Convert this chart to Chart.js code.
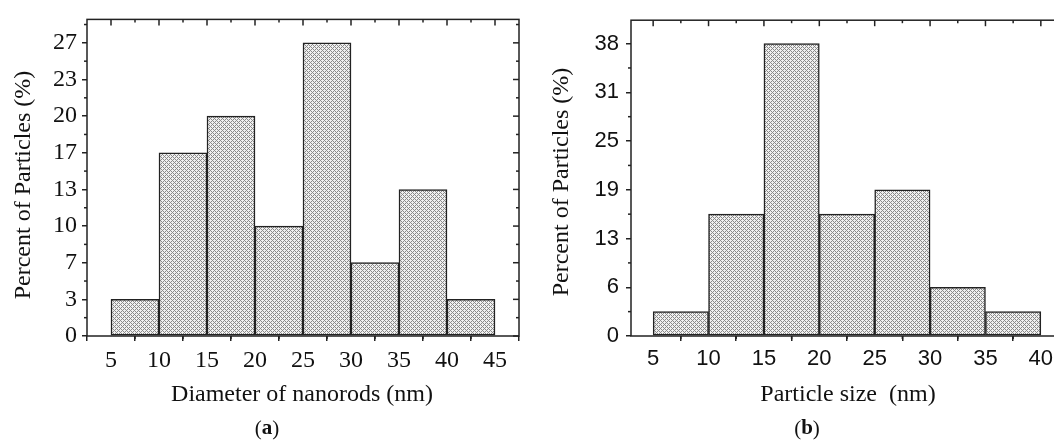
<!DOCTYPE html>
<html><head><meta charset="utf-8">
<script src="https://cdn.jsdelivr.net/npm/chart.js@4"></script>
<style>
html,body{margin:0;padding:0;background:#fff;overflow:hidden;width:1054px;height:442px;position:relative}
#ca{position:absolute;left:0;top:0}
#cb{position:absolute;left:540px;top:0}
</style></head><body>
<canvas id="ca" width="540" height="442"></canvas>
<canvas id="cb" width="560" height="442"></canvas>
<script>
// ---- data (a) ----
const binCentersA = [7.5, 12.5, 17.5, 22.5, 27.5, 32.5, 37.5, 42.5];
const percentA = [3.33, 16.67, 20, 10, 26.67, 6.67, 13.33, 3.33];
const xTickLabelsA = ['5','10','15','20','25','30','35','40','45'];
const yTickLabelsA = ['0','3','7','10','13','17','20','23','27'];
// ---- data (b) ----
const binCentersB = [7.5, 12.5, 17.5, 22.5, 27.5, 32.5, 37.5];
const percentB = [3.13, 15.63, 37.5, 15.63, 18.75, 6.25, 3.13];
const xTickLabelsB = ['5','10','15','20','25','30','35','40'];
const yTickLabelsB = ['0','6','13','19','25','31','38'];

const SERIF = '"Liberation Serif", "Times New Roman", serif';
const SANS = '"Liberation Sans", Arial, sans-serif';

function hatch(){
  const c=document.createElement('canvas'); c.width=4; c.height=4;
  const g=c.getContext('2d');
  g.fillStyle='#f0f0f0'; g.fillRect(0,0,4,4);
  g.fillStyle='#8a8a8a';
  for(let y=0;y<4;y++)for(let x=0;x<4;x++){
    if((x+y)%4===0||(x-y+4)%4===0) g.fillRect(x,y,1,1);
  }
  return g.createPattern(c,'repeat');
}

const extras={id:'extras', afterDraw(chart,args,o){
  const {ctx,chartArea:a,scales:{x,y}}=chart;
  ctx.save();
  ctx.strokeStyle='#222'; ctx.lineWidth=1.5;
  ctx.strokeRect(a.left,a.top,a.right-a.left,a.bottom-a.top);
  const line=(x1,y1,x2,y2)=>{ctx.beginPath();ctx.moveTo(x1,y1);ctx.lineTo(x2,y2);ctx.stroke();};
  const xs=o.xStep, ys=o.yStep;
  o.xMajor.forEach(v=>{const p=x.getPixelForValue(v); line(p,a.top,p,a.top+6);});
  o.xMajor.concat([o.xMajor[o.xMajor.length-1]+xs]).forEach(v=>{
    const m=v-xs/2; if(m<=x.min||m>=x.max) return;
    const p=x.getPixelForValue(m); line(p,a.top,p,a.top+3); line(p,a.bottom,p,a.bottom+3);
  });
  o.yMajor.forEach(v=>{const p=y.getPixelForValue(v); line(a.right,p,a.right-6,p);});
  o.yMajor.concat([o.yMajor[o.yMajor.length-1]+ys]).forEach(v=>{
    const m=v-ys/2; if(m<=y.min||m>=y.max) return;
    const p=y.getPixelForValue(m); line(a.left,p,a.left-3,p); line(a.right,p,a.right-3,p);
  });
  ctx.fillStyle='#111';
  ctx.textAlign='center'; ctx.textBaseline='middle';
  ctx.font='24px '+SERIF;
  ctx.save(); ctx.translate(o.yTitleX,o.yTitleY); ctx.rotate(-Math.PI/2);
  ctx.fillText(o.yTitle,0,0); ctx.restore();
  ctx.fillText(o.xTitle,o.xTitleX,o.xTitleY);
  // caption "(a)" with bold letter
  ctx.font='21px '+SERIF; const lp=ctx.measureText('(').width, rp=ctx.measureText(')').width;
  ctx.font='bold 21px '+SERIF; const lw=ctx.measureText(o.capLetter).width;
  let cx=o.capX-(lp+lw+rp)/2; ctx.textAlign='left';
  ctx.font='21px '+SERIF; ctx.fillText('(',cx,o.capY);
  ctx.font='bold 21px '+SERIF; ctx.fillText(o.capLetter,cx+lp,o.capY);
  ctx.font='21px '+SERIF; ctx.fillText(')',cx+lp+lw,o.capY);
  ctx.restore();
}};

function make(id, cfg){
  const xVals=cfg.xLabels.map(Number);
  const yVals=cfg.yLabels.map((l,i)=>i*cfg.yStep);
  const tickFont={family:cfg.tickFamily,size:cfg.tickSize};
  return new Chart(document.getElementById(id),{
    type:'bar',
    data:{datasets:[{
      data:cfg.centers.map((c,i)=>({x:c,y:cfg.values[i]})),
      backgroundColor:hatch(), borderColor:'#222', borderWidth:1.5, borderSkipped:false,
      barPercentage:1, categoryPercentage:1
    }]},
    options:{
      responsive:false, animation:false, devicePixelRatio:1,
      layout:{padding:{left:0,top:17,right:cfg.padRight,bottom:0}},
      plugins:{legend:{display:false},tooltip:{enabled:false},
        extras:{xMajor:xVals,yMajor:yVals,xStep:5,yStep:cfg.yStep,
          yTitle:'Percent of Particles (%)',yTitleX:cfg.yTitleX,yTitleY:cfg.yTitleY,
          xTitle:cfg.xTitle,xTitleX:cfg.xTitleX,xTitleY:395,
          capLetter:cfg.cap,capX:cfg.capX,capY:429}},
      scales:{
        x:{type:'linear',min:cfg.xMin,max:cfg.xMax,offset:false,
          afterBuildTicks:s=>{s.ticks=xVals.map(v=>({value:v}));},
          afterFit:s=>{s.height=106;},
          ticks:{callback:(v,i)=>cfg.xLabels[i],font:tickFont,color:'#111',padding:5,maxRotation:0,autoSkip:false},
          grid:{display:true,drawOnChartArea:false,drawTicks:true,tickLength:5,color:'#222',lineWidth:1.5},
          border:{display:false}},
        y:{type:'linear',min:0,max:cfg.yMax,
          afterBuildTicks:s=>{s.ticks=yVals.map(v=>({value:v}));},
          afterFit:s=>{s.width=cfg.yWidth;},
          ticks:{callback:(v,i)=>cfg.yLabels[i],font:tickFont,color:'#111',padding:cfg.yPad,autoSkip:false},
          grid:{display:true,drawOnChartArea:false,drawTicks:true,tickLength:5,color:'#222',lineWidth:1.5},
          border:{display:false}}
      }
    },
    plugins:[extras]
  });
}

make('ca',{centers:binCentersA,values:percentA,xLabels:xTickLabelsA,yLabels:yTickLabelsA,
  yStep:10/3,yMax:28.8,xMin:2.5,xMax:47.5,padRight:21,yWidth:87,yPad:5,
  tickFamily:SERIF,tickSize:24,yTitleX:24,yTitleY:185,
  xTitle:'Diameter of nanorods (nm)',xTitleX:302,cap:'a',capX:267});
make('cb',{centers:binCentersB,values:percentB,xLabels:xTickLabelsB,yLabels:yTickLabelsB,
  yStep:6.25,yMax:40.5,xMin:3,xMax:42,padRight:37,yWidth:91,yPad:7,
  tickFamily:SANS,tickSize:22,yTitleX:22,yTitleY:182,
  xTitle:'Particle size  (nm)',xTitleX:308,cap:'b',capX:267});
</script>
</body></html>
